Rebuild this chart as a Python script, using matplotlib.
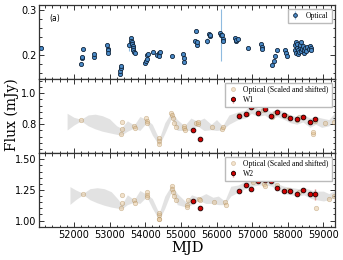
import matplotlib
matplotlib.use("Agg")
import matplotlib.pyplot as plt
from matplotlib.ticker import AutoMinorLocator, MultipleLocator

# optical light curve (top panel)
opt_mjd = [51076, 52200, 52215, 52230, 52250, 52560, 52575, 52930, 52945, 52955, 52965,
           53280, 53295, 53310, 53325, 53540, 53600, 53615, 53625, 53640, 53650, 53660,
           53670, 53685, 53700, 54000, 54020, 54040, 54060, 54080, 54220, 54330, 54380,
           54400, 54420, 54740, 55070, 55080, 55090, 55420, 55410, 55440, 55460, 55720,
           55800, 55815, 55830, 56110, 56125, 56140, 56170, 56190, 56510, 56540, 56560,
           56590, 56890, 57260, 57270, 57280, 57570, 57610, 57650, 57690, 57930, 57960,
           57990, 58200, 58210, 58230, 58240, 58250, 58270, 58280, 58290, 58310, 58330,
           58350, 58360, 58370, 58390, 58420, 58440, 58460, 58490, 58520, 58550, 58600,
           58620, 58650, 58660]
opt_flux = [0.216, 0.181, 0.193, 0.196, 0.213, 0.195, 0.202, 0.222, 0.213, 0.210, 0.205,
            0.158, 0.164, 0.170, 0.176, 0.221, 0.237, 0.232, 0.228, 0.224, 0.219, 0.215,
            0.211, 0.207, 0.204, 0.182, 0.186, 0.190, 0.199, 0.202, 0.206, 0.200, 0.204,
            0.198, 0.207, 0.198, 0.202, 0.193, 0.185, 0.254, 0.231, 0.222, 0.228, 0.231,
            0.247, 0.241, 0.244, 0.249, 0.245, 0.245, 0.236, 0.230, 0.238, 0.232, 0.234,
            0.236, 0.216, 0.224, 0.218, 0.213, 0.178, 0.186, 0.198, 0.210, 0.211, 0.205,
            0.198, 0.222, 0.210, 0.205, 0.229, 0.215, 0.225, 0.202, 0.212, 0.206, 0.218,
            0.223, 0.228, 0.209, 0.214, 0.219, 0.205, 0.212, 0.216, 0.209, 0.218, 0.213,
            0.220, 0.216, 0.210]
opt_err = [0.003] * len(opt_mjd)
opt_err[opt_mjd.index(53540)] = 0.012
opt_err[opt_mjd.index(55720)] = 0.007
opt_err[opt_mjd.index(56125)] = 0.058

# optical, scaled and shifted onto W1
o1_mjd = [52200, 53325, 53340, 53360, 53680, 53700, 54030, 54040, 54050, 54380, 54390,
          54400, 54730, 54760, 54770, 54800, 54850, 55080, 55100, 55130, 55420, 55470,
          55480, 55860, 56160, 56180, 56536, 56620, 56850, 56990, 57300, 57560, 57650,
          57950, 58250, 58300, 58420, 58700, 58720, 58750, 59030, 59300]
o1_flux = [0.827, 0.735, 0.768, 0.817, 0.791, 0.778, 0.839, 0.821, 0.810, 0.710, 0.690,
           0.675, 0.875, 0.860, 0.840, 0.810, 0.785, 0.790, 0.774, 0.760, 0.810, 0.800,
           0.815, 0.780, 0.770, 0.780, 0.930, 0.860, 0.865, 0.910, 0.890, 0.850, 0.870,
           0.855, 0.830, 0.845, 0.850, 0.735, 0.750, 0.820, 0.810, 0.817]

# optical, scaled and shifted onto W2
o2_mjd = [52260, 53330, 53345, 53360, 53690, 53710, 54040, 54050, 54060, 54380, 54390,
          54395, 54400, 54740, 54760, 54790, 54820, 54850, 55160, 55170, 55200, 55520,
          55540, 55920, 56250, 56260, 56570, 56990, 57010, 57330, 57350, 57550, 57700,
          58000, 58300, 58800, 59150, 59300]
o2_flux = [1.217, 1.100, 1.146, 1.210, 1.168, 1.146, 1.236, 1.209, 1.196, 1.009, 1.044,
           1.017, 1.060, 1.285, 1.260, 1.230, 1.200, 1.168, 1.127, 1.113, 1.168, 1.180,
           1.170, 1.154, 1.154, 1.130, 1.350, 1.330, 1.315, 1.300, 1.280, 1.330, 1.290,
           1.250, 1.230, 1.105, 1.180, 1.200]

# WISE
w_mjd = [55340, 55530, 56620, 56820, 56975, 57160, 57350, 57515, 57700, 57890, 58070,
         58245, 58420, 58615, 58775]
w1_flux = [0.765, 0.708, 0.853, 0.864, 0.914, 0.875, 0.897, 0.853, 0.879, 0.860, 0.839,
           0.832, 0.845, 0.815, 0.832]
w1_err = [0.006] * len(w_mjd)
w2_flux = [1.160, 1.105, 1.242, 1.291, 1.256, 1.324, 1.327, 1.324, 1.269, 1.244, 1.244,
           1.215, 1.250, 1.215, 1.215]
w2_err = [0.010] * 14 + [0.045]

# model bands
b1_mjd = [51810, 52000, 52200, 52400, 52600, 52800, 53000, 53200, 53330, 53500, 53690,
          53850, 54040, 54200, 54390, 54550, 54740, 54900, 55100, 55280, 55460, 55650,
          55850, 56000, 56170, 56350, 56600, 56800, 56980, 57160, 57350, 57520, 57700,
          57900, 58070, 58250, 58420, 58620, 58780, 58950, 59150, 59340]
b1_lo = [0.763, 0.795, 0.822, 0.790, 0.770, 0.755, 0.745, 0.735, 0.730, 0.755, 0.775,
         0.760, 0.810, 0.730, 0.665, 0.740, 0.840, 0.760, 0.760, 0.760, 0.790, 0.760,
         0.765, 0.760, 0.765, 0.800, 0.830, 0.840, 0.870, 0.850, 0.860, 0.830, 0.850,
         0.830, 0.810, 0.800, 0.815, 0.780, 0.800, 0.780, 0.790, 0.830]
b1_hi = [0.871, 0.845, 0.832, 0.860, 0.865, 0.855, 0.835, 0.790, 0.775, 0.822, 0.795,
         0.850, 0.830, 0.800, 0.705, 0.810, 0.880, 0.830, 0.790, 0.840, 0.820, 0.840,
         0.800, 0.830, 0.790, 0.860, 0.880, 0.890, 0.930, 0.900, 0.910, 0.880, 0.900,
         0.880, 0.860, 0.850, 0.865, 0.840, 0.850, 0.840, 0.830, 0.880]
b2_mjd = [51890, 52050, 52260, 52450, 52650, 52850, 53050, 53250, 53340, 53500, 53690,
          53850, 54040, 54200, 54390, 54550, 54740, 54900, 55150, 55300, 55500, 55700,
          55900, 56050, 56230, 56400, 56600, 56800, 57000, 57200, 57400, 57550, 57700,
          57900, 58100, 58300, 58450, 58650, 58800, 59000, 59150, 59340]
b2_lo = [1.132, 1.170, 1.212, 1.170, 1.145, 1.125, 1.110, 1.100, 1.095, 1.130, 1.150,
         1.140, 1.195, 1.100, 1.005, 1.100, 1.240, 1.130, 1.110, 1.130, 1.165, 1.140,
         1.140, 1.130, 1.130, 1.200, 1.230, 1.260, 1.280, 1.290, 1.290, 1.280, 1.250,
         1.220, 1.210, 1.200, 1.210, 1.180, 1.170, 1.160, 1.170, 1.190]
b2_hi = [1.277, 1.250, 1.222, 1.260, 1.268, 1.260, 1.235, 1.170, 1.130, 1.210, 1.170,
         1.245, 1.215, 1.180, 1.060, 1.200, 1.290, 1.220, 1.150, 1.210, 1.190, 1.220,
         1.190, 1.200, 1.160, 1.280, 1.290, 1.320, 1.340, 1.350, 1.350, 1.330, 1.300,
         1.280, 1.270, 1.260, 1.270, 1.250, 1.240, 1.240, 1.220, 1.250]

serif = "DejaVu Serif"
legfont = {"family": "Liberation Serif", "size": 5.5}

fig, axes = plt.subplots(3, 1, sharex=True, figsize=(3.43, 2.6), dpi=100)
fig.subplots_adjust(left=0.115, right=0.978, top=0.981, bottom=0.127, hspace=0)
ax1, ax2, ax3 = axes

ax1.errorbar(opt_mjd, opt_flux, yerr=opt_err, fmt="o", ms=3, mfc="#4a8ac8", mec="#10243a",
             mew=0.6, ecolor="#8fbbe0", elinewidth=0.8, label="Optical")
ax1.text(0.035, 0.88, "(a)", transform=ax1.transAxes, fontsize=5.5, va="top")
ax1.set_ylim(0.1467, 0.311)
ax1.yaxis.set_major_locator(MultipleLocator(0.1))
ax1.legend(loc="upper right", prop=legfont, markerscale=0.9, handlelength=1.2,
           fancybox=False, borderpad=0.4, framealpha=1, edgecolor="#bbbbbb")

for ax, bm, blo, bhi, om, of, wf, we, wname in [
        (ax2, b1_mjd, b1_lo, b1_hi, o1_mjd, o1_flux, w1_flux, w1_err, "W1"),
        (ax3, b2_mjd, b2_lo, b2_hi, o2_mjd, o2_flux, w2_flux, w2_err, "W2")]:
    ax.fill_between(bm, blo, bhi, color="#d9d9d9", alpha=0.75, lw=0)
    ax.plot(om, of, "o", ms=3.2, mfc="#e3c08f", mec="#a88550", mew=0.5, alpha=0.45,
            label="Optical (Scaled and shifted)")
    ax.errorbar(w_mjd, wf, yerr=we, fmt="o", ms=3.4, mfc="#d00000", mec="#1a0000",
                mew=0.6, ecolor="#e08a8a", elinewidth=1.0, label=wname)
    ax.legend(loc="upper right", prop=legfont, markerscale=0.9, handlelength=1.2,
              fancybox=False, borderpad=0.4, labelspacing=0.3, framealpha=1,
              edgecolor="#bbbbbb")

ax2.set_ylim(0.615, 1.092)
ax2.yaxis.set_major_locator(MultipleLocator(0.2))
ax3.set_ylim(0.948, 1.551)
ax3.yaxis.set_major_locator(MultipleLocator(0.25))
ax3.yaxis.set_major_formatter(plt.FormatStrFormatter("%.2f"))

ax3.set_xlim(51034, 59336)
ax3.xaxis.set_major_locator(MultipleLocator(1000))
ax3.set_xlabel("MJD", family=serif, fontsize=10.5, labelpad=1)
fig.text(0.035, 0.56, "Flux (mJy)", rotation=90, va="center", ha="center",
         family=serif, fontsize=10)

for ax in axes:
    ax.xaxis.set_minor_locator(AutoMinorLocator(5))
    ax.yaxis.set_minor_locator(AutoMinorLocator(5))
    ax.tick_params(which="both", direction="in", top=True, right=True, labelsize=7,
                   width=0.7, color="#333333", pad=2)
    ax.tick_params(which="major", length=3.5)
    ax.tick_params(which="minor", length=1.8)
    for s in ax.spines.values():
        s.set_color("#333333")
        s.set_linewidth(0.9)

fig.savefig("out.png", dpi=100)
